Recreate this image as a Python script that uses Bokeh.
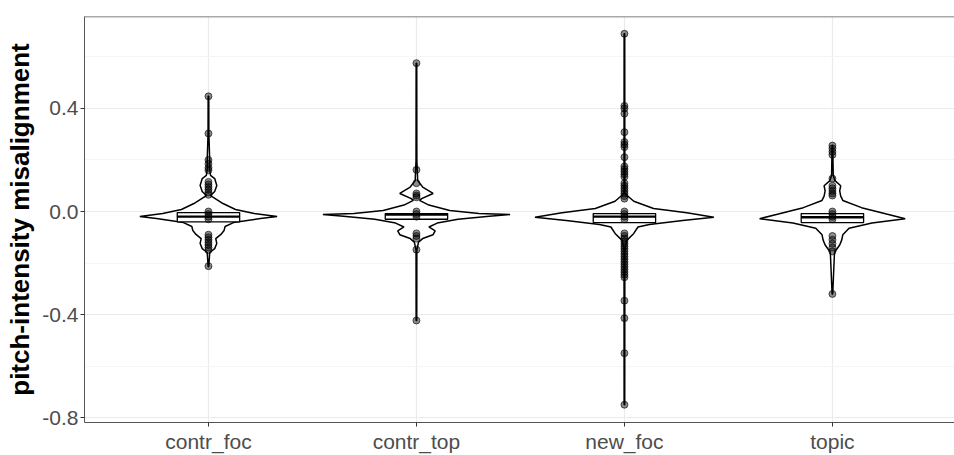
from bokeh.plotting import figure
from bokeh.models import Range1d, FixedTicker, PrintfTickFormatter, Span
from bokeh.embed import file_html
from bokeh.resources import INLINE

categories = ["contr_foc", "contr_top", "new_foc", "topic"]

# violin profiles: y value and half-width (category units)
violin_y_contr_foc = [0.447, 0.303, 0.198, 0.167, 0.140, 0.128, 0.101, 0.078, 0.062, 0.031, 0.008, -0.008, -0.019,
                      -0.027, -0.043, -0.058, -0.074, -0.089, -0.105, -0.124, -0.144, -0.159, -0.214]
violin_w_contr_foc = [0.0015, 0.002, 0.006, 0.005, 0.010, 0.030, 0.040, 0.030, 0.010, 0.070, 0.130, 0.220, 0.330,
                      0.250, 0.120, 0.080, 0.075, 0.060, 0.035, 0.040, 0.030, 0.006, 0.0015]

violin_y_contr_top = [0.576, 0.200, 0.120, 0.095, 0.070, 0.050, 0.043, 0.025, 0.004, -0.008, -0.012, -0.018,
                      -0.030, -0.045, -0.060, -0.075, -0.090, -0.105, -0.119, -0.150, -0.423]
violin_w_contr_top = [0.0015, 0.002, 0.006, 0.030, 0.080, 0.025, 0.015, 0.060, 0.160, 0.300, 0.450, 0.350,
                      0.200, 0.100, 0.060, 0.090, 0.080, 0.030, 0.010, 0.002, 0.0015]

violin_y_new_foc = [0.690, 0.070, 0.040, 0.012, -0.005, -0.022, -0.035, -0.050, -0.060, -0.085, -0.113, -0.150, -0.750]
violin_w_new_foc = [0.0015, 0.002, 0.045, 0.140, 0.300, 0.430, 0.280, 0.120, 0.065, 0.045, 0.010, 0.002, 0.0015]

violin_y_topic = [0.256, 0.140, 0.120, 0.100, 0.080, 0.060, 0.043, 0.015, -0.010, -0.028, -0.045, -0.065, -0.090,
                  -0.110, -0.130, -0.158, -0.320]
violin_w_topic = [0.0015, 0.004, 0.012, 0.040, 0.035, 0.040, 0.050, 0.140, 0.260, 0.350, 0.190, 0.080, 0.050,
                  0.045, 0.035, 0.010, 0.0015]

# box statistics
box_q1 = [-0.040, -0.030, -0.043, -0.043]
box_med = [-0.020, -0.012, -0.020, -0.022]
box_q3 = [-0.004, -0.008, -0.008, -0.008]

# observed points
points_contr_foc = [0.447, 0.303, 0.200, 0.185, 0.170, 0.160, 0.115, 0.105, 0.095, 0.085, 0.075, 0.065, 0.0,
                    -0.010, -0.020, -0.030, -0.090, -0.100, -0.110, -0.120, -0.130, -0.140, -0.150, -0.212]
points_contr_top = [0.576, 0.162, 0.110, 0.070, 0.062, 0.055, 0.0, -0.010, -0.020, -0.085, -0.095, -0.105,
                    -0.148, -0.423]
points_new_foc = [0.690, 0.410, 0.400, 0.380, 0.308, 0.270, 0.260, 0.250, 0.211, 0.175, 0.165, 0.155, 0.145,
                  0.135, 0.110, 0.100, 0.090, 0.080, 0.070, 0.060, 0.050, 0.0, -0.010, -0.020, -0.030, -0.085,
                  -0.095, -0.105, -0.115, -0.125, -0.135, -0.145, -0.155, -0.165, -0.175, -0.185, -0.195, -0.205,
                  -0.215, -0.225, -0.235, -0.245, -0.255, -0.346, -0.414, -0.550, -0.750]
points_topic = [0.256, 0.245, 0.232, 0.220, 0.128, 0.100, 0.090, 0.080, 0.070, 0.062, 0.0, -0.010, -0.020,
                -0.030, -0.095, -0.110, -0.125, -0.140, -0.155, -0.320]

y_ticks = [-0.8, -0.4, 0.0, 0.4]
y_minor = [-0.6, -0.2, 0.2, 0.6]

violins_y = [violin_y_contr_foc, violin_y_contr_top, violin_y_new_foc, violin_y_topic]
violins_w = [violin_w_contr_foc, violin_w_contr_top, violin_w_new_foc, violin_w_topic]
points_all = [points_contr_foc, points_contr_top, points_new_foc, points_topic]

FONT = "Liberation Sans"

p = figure(width=954, height=455, x_range=Range1d(0.404, 4.587), y_range=Range1d(-0.819, 0.757),
           output_backend="svg", toolbar_location=None,
           min_border_left=84, min_border_bottom=32, min_border_top=16, min_border_right=0)

p.outline_line_color = None
p.background_fill_color = "white"

# grid
p.xgrid.ticker = FixedTicker(ticks=[1, 2, 3, 4])
p.xgrid.grid_line_color = "#EBEBEB"
p.xgrid.grid_line_width = 1.2
p.ygrid.ticker = FixedTicker(ticks=y_ticks, minor_ticks=y_minor)
p.ygrid.grid_line_color = "#EBEBEB"
p.ygrid.grid_line_width = 1.2
p.ygrid.minor_grid_line_color = "#F2F2F2"
p.ygrid.minor_grid_line_width = 0.8

# axes
p.xaxis.ticker = FixedTicker(ticks=[1, 2, 3, 4])
p.xaxis.major_label_overrides = {i + 1: c for i, c in enumerate(categories)}
p.yaxis.ticker = FixedTicker(ticks=y_ticks)
p.yaxis.formatter = PrintfTickFormatter(format="%.1f")
for ax in (p.xaxis, p.yaxis):
    ax.axis_line_color = "#555555"
    ax.axis_line_width = 1
    ax.major_tick_line_color = "#333333"
    ax.major_tick_in = 0
    ax.major_tick_out = 4
    ax.minor_tick_line_color = None
    ax.major_label_text_color = "#4D4D4D"
    ax.major_label_text_font = FONT
p.xaxis.major_label_text_font_size = "21px"
p.yaxis.major_label_text_font_size = "21px"
p.xaxis.major_label_standoff = 3
p.yaxis.major_label_standoff = 2
p.yaxis.axis_label = "pitch-intensity misalignment"
p.yaxis.axis_label_text_font = FONT
p.yaxis.axis_label_text_font_style = "bold"
p.yaxis.axis_label_text_font_size = "26px"
p.yaxis.axis_label_text_color = "black"
p.yaxis.axis_label_standoff = 4

top_border = Span(location=0.757, dimension="width", line_color="#555555", line_width=1.5)
p.add_layout(top_border)

# violins
xs_list, ys_list = [], []
for i, (vy, vw) in enumerate(zip(violins_y, violins_w)):
    cx = i + 1
    xs_list.append([cx + w for w in vw] + [cx - w for w in reversed(vw)])
    ys_list.append(list(vy) + list(reversed(vy)))
p.patches(xs_list, ys_list, fill_color="white", line_color="black", line_width=1.5)

# boxes
centers = [1, 2, 3, 4]
p.quad(left=[c - 0.15 for c in centers], right=[c + 0.15 for c in centers],
       bottom=box_q1, top=box_q3, fill_color="white", line_color="black", line_width=1.3)
p.segment(x0=[c - 0.15 for c in centers], x1=[c + 0.15 for c in centers],
          y0=box_med, y1=box_med, line_color="black", line_width=2.4)

# points
for i, pts in enumerate(points_all):
    p.scatter([i + 1] * len(pts), pts, size=7, fill_color="black", fill_alpha=0.45,
              line_color="black", line_alpha=0.6)

open("out.html", "w").write(file_html(p, INLINE))
